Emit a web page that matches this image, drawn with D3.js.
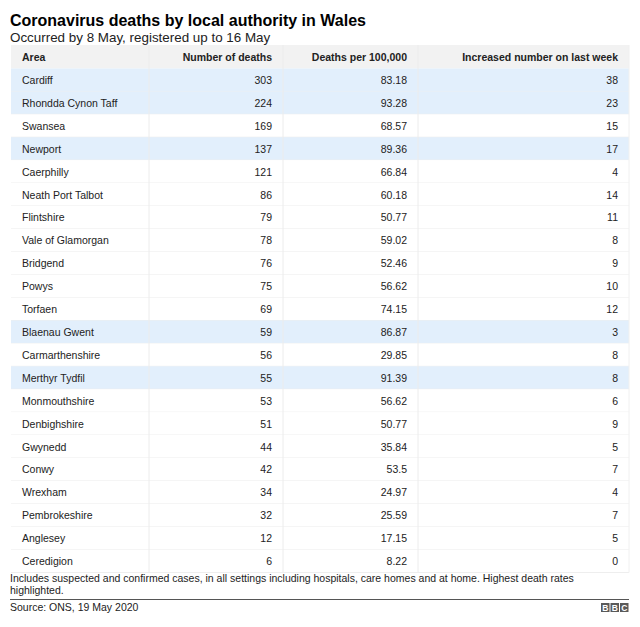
<!DOCTYPE html>
<html><head><meta charset="utf-8">
<script src="https://cdn.jsdelivr.net/npm/d3@7"></script>
<style>
body{margin:0;background:#fff;}
svg{font-family:"Liberation Sans",Arial,Helvetica,sans-serif;}
</style></head>
<body><svg id="c" width="640" height="627"></svg>
<script>
const columns = ["Area","Number of deaths","Deaths per 100,000","Increased number on last week"];
const areas = ["Cardiff","Rhondda Cynon Taff","Swansea","Newport","Caerphilly","Neath Port Talbot","Flintshire","Vale of Glamorgan","Bridgend","Powys","Torfaen","Blaenau Gwent","Carmarthenshire","Merthyr Tydfil","Monmouthshire","Denbighshire","Gwynedd","Conwy","Wrexham","Pembrokeshire","Anglesey","Ceredigion"];
const deaths = ["303","224","169","137","121","86","79","78","76","75","69","59","56","55","53","51","44","42","34","32","12","6"];
const per100k = ["83.18","93.28","68.57","89.36","66.84","60.18","50.77","59.02","52.46","56.62","74.15","86.87","29.85","91.39","56.62","50.77","35.84","53.5","24.97","25.59","17.15","8.22"];
const increase = ["38","23","15","17","4","14","11","8","9","10","12","3","8","8","6","9","5","7","4","7","5","0"];
const highlighted = ["Cardiff","Rhondda Cynon Taff","Newport","Blaenau Gwent","Merthyr Tydfil"];

const svg = d3.select("#c");
const left = 11, right = 629;
const colEdges = [11, 149, 283, 418, 629];
const headerTop = 45, rowsTop = 68.5, rowsBottom = 572.5;
const fs = 10.5;

svg.append("text").attr("x",10).attr("y",26).attr("font-size",16).attr("font-weight","bold").attr("fill","#000")
  .text("Coronavirus deaths by local authority in Wales");
svg.append("text").attr("x",10).attr("y",42).attr("font-size",13.4).attr("fill","#222")
  .text("Occurred by 8 May, registered up to 16 May");

const y = d3.scaleBand().domain(areas).range([rowsTop, rowsBottom]);
const rows = areas.map((a,i)=>[a, deaths[i], per100k[i], increase[i]]);

// header
svg.append("rect").attr("x",left).attr("y",headerTop).attr("width",right-left).attr("height",rowsTop-headerTop).attr("fill","#f2f2f2");
const hy = (headerTop+rowsTop)/2 + 4;
columns.forEach((c,j)=>{
  svg.append("text").attr("x", j===0 ? colEdges[0]+11 : colEdges[j+1]-11).attr("y",hy)
    .attr("text-anchor", j===0?"start":"end").attr("font-size",fs).attr("font-weight","bold").attr("fill","#222").text(c);
});

const g = svg.append("g");
const r = g.selectAll("g.row").data(rows).join("g").attr("class","row");
r.append("rect").attr("x",left).attr("y",d=>y(d[0])).attr("width",right-left).attr("height",y.bandwidth())
  .attr("fill",d=>highlighted.includes(d[0])?"#e2effc":"#fff");
r.append("line").attr("x1",left).attr("x2",right).attr("y1",d=>y(d[0])+y.bandwidth()).attr("y2",d=>y(d[0])+y.bandwidth())
  .attr("stroke","#eeeeee").attr("stroke-width",1);
[0,1,2,3].forEach(j=>{
  r.append("text").attr("x", j===0 ? colEdges[0]+11 : colEdges[j+1]-11)
    .attr("y",d=>y(d[0])+y.bandwidth()/2+4).attr("text-anchor", j===0?"start":"end")
    .attr("font-size",fs).attr("fill","#222").text(d=>d[j]);
});
// column separators
[1,2,3].forEach(j=>{
  svg.append("line").attr("x1",colEdges[j]).attr("x2",colEdges[j]).attr("y1",headerTop).attr("y2",rowsBottom)
    .attr("stroke","#ececec").attr("stroke-width",1);
});
svg.append("line").attr("x1",right).attr("x2",right).attr("y1",headerTop).attr("y2",rowsBottom).attr("stroke","#f0f0f0");

// footnote
svg.append("text").attr("x",10).attr("y",582).attr("font-size",fs).attr("fill","#222")
  .text("Includes suspected and confirmed cases, in all settings including hospitals, care homes and at home. Highest death rates");
svg.append("text").attr("x",10).attr("y",594).attr("font-size",fs).attr("fill","#222").text("highlighted.");
svg.append("line").attr("x1",left-1).attr("x2",right).attr("y1",599.5).attr("y2",599.5).attr("stroke","#555").attr("stroke-width",1);
svg.append("text").attr("x",10).attr("y",611).attr("font-size",fs).attr("fill","#222").text("Source: ONS, 19 May 2020");

// BBC logo
const logo = svg.append("g").attr("transform","translate(601,603)");
["B","B","C"].forEach((ch,i)=>{
  logo.append("rect").attr("x",i*9.5).attr("y",0).attr("width",8.5).attr("height",9).attr("fill","#5a5a5a");
  logo.append("text").attr("x",i*9.5+4.25).attr("y",7.8).attr("text-anchor","middle").attr("font-size",8.5).attr("font-weight","bold").attr("fill","#fff").text(ch);
});
</script></body></html>
